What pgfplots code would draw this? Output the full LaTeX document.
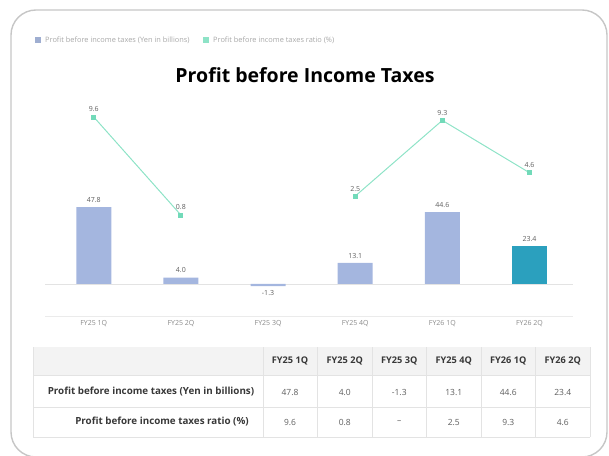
\documentclass[border=0pt]{standalone}
\usepackage{pgfplots}
\pgfplotsset{compat=1.18}
\usepackage{fontspec}
\setmainfont{Open Sans}
\definecolor{barblue}{HTML}{A4B6DF}
\definecolor{barteal}{HTML}{2BA0BE}
\definecolor{mint}{HTML}{8EE3C7}
\definecolor{mintd}{HTML}{72DAB9}
\definecolor{lbl}{HTML}{5E5E5E}
\definecolor{tickc}{HTML}{8A8A8A}
\definecolor{framec}{HTML}{C6C6C6}
\definecolor{tline}{HTML}{E3E3E3}
\definecolor{thead}{HTML}{F3F3F3}
\definecolor{legc}{HTML}{A8A8A8}
\begin{document}
\begin{tikzpicture}[x=1pt,y=1pt]
\path[use as bounding box] (0,0) rectangle (609,455);
\draw[framec, line width=1.4pt, rounded corners=25pt] (11,-2) rectangle (607,445);
% legend
\fill[barblue!85!gray] (35,412) rectangle (41,418);
\node[anchor=west, inner sep=0pt, font=\fontsize{7.4}{8}\selectfont, text=legc] at (45,415) {Profit before income taxes (Yen in billions)};
\fill[mint] (203,412) rectangle (209,418);
\node[anchor=west, inner sep=0pt, font=\fontsize{7.4}{8}\selectfont, text=legc] at (213,415) {Profit before income taxes ratio (\%)};
% title
\node[font=\fontsize{19.5}{22}\selectfont\bfseries] at (305,380) {Profit before Income Taxes};
% bars
\begin{axis}[at={(45pt,139pt)}, anchor=south west, scale only axis,
  width=528pt, height=216pt,
  xmin=-0.56, xmax=5.5, ymin=-19.88, ymax=114.3,
  axis y line=none, axis x line*=bottom,
  x axis line style={draw=tline!70,-},
  xtick={0,...,5},
  xticklabels={FY25 1Q,FY25 2Q,FY25 3Q,FY25 4Q,FY26 1Q,FY26 2Q},
  major tick length=0pt,
  xticklabel style={font=\fontsize{7}{8}\selectfont, text=tickc, yshift=-1pt},
  /pgf/number format/.cd, fixed, fixed zerofill, precision=1, assume math mode=true,
  /pgfplots/.cd,
  nodes near coords style={font=\fontsize{7}{8}\selectfont, text=lbl, inner sep=4.5pt},
  clip=false]
\draw[tline, line width=0.8pt] (axis cs:-0.56,0) -- (axis cs:5.5,0);
\addplot[ybar, bar width=35pt, bar shift=0pt, fill=barblue, draw=none, nodes near coords] table {
x y
0 47.8
1 4.0
2 -1.3
3 13.1
4 44.6
};
\addplot[ybar, bar width=35pt, bar shift=0pt, fill=barteal, draw=none, nodes near coords] table {
x y
5 23.4
};
\end{axis}
% ratio line
\begin{axis}[at={(45pt,139pt)}, anchor=south west, scale only axis,
  width=528pt, height=216pt,
  xmin=-0.56, xmax=5.5, ymin=-8.26, ymax=11.13,
  hide axis, clip=false,
  /pgf/number format/.cd, fixed, fixed zerofill, precision=1, assume math mode=true,
  /pgfplots/.cd,
  nodes near coords style={font=\fontsize{7}{8}\selectfont, text=lbl, inner sep=4.5pt}]
\addplot[mint, line width=1pt, mark=square*, mark size=2pt,
  mark options={fill=mintd, draw=mintd}, unbounded coords=jump, nodes near coords] table {
x y
0 9.6
1 0.8
2 nan
3 2.5
4 9.3
5 4.6
};
\end{axis}
% table
\fill[thead] (33,108) rectangle (590,80);
\draw[tline, line width=0.6pt] (33,80) -- (590,80) (33,48) -- (590,48) (33,18) -- (590,18);
\draw[tline, line width=0.6pt] (33,108) -- (33,18) (590,108) -- (590,18);
\foreach \xx in {263,317.5,372,426.5,481,535.5} {\draw[tline, line width=0.6pt] (\xx,108) -- (\xx,18);}
\begin{scope}[every node/.style={font=\fontsize{8.5}{10}\selectfont}]
\node[font=\fontsize{9.8}{11}\selectfont\bfseries, text=black!78] at (151,63) {Profit before income taxes (Yen in billions)};
\node[font=\fontsize{9.8}{11}\selectfont\bfseries, text=black!78] at (162,33) {Profit before income taxes ratio (\%)};
\foreach \c/\h/\a/\b in {290/FY25 1Q/47.8/9.6, 344.75/FY25 2Q/4.0/0.8, 399.25/FY25 3Q/-1.3/--, 453.75/FY25 4Q/13.1/2.5, 508.25/FY26 1Q/44.6/9.3, 562.75/FY26 2Q/23.4/4.6} {
  \node[font=\fontsize{9.2}{11}\selectfont\bfseries, text=black!78] at (\c,94) {\h};
  \node[text=lbl] at (\c,63) {\a};
  \node[text=lbl] at (\c,33) {\b};
}
\end{scope}
\end{tikzpicture}
\end{document}
